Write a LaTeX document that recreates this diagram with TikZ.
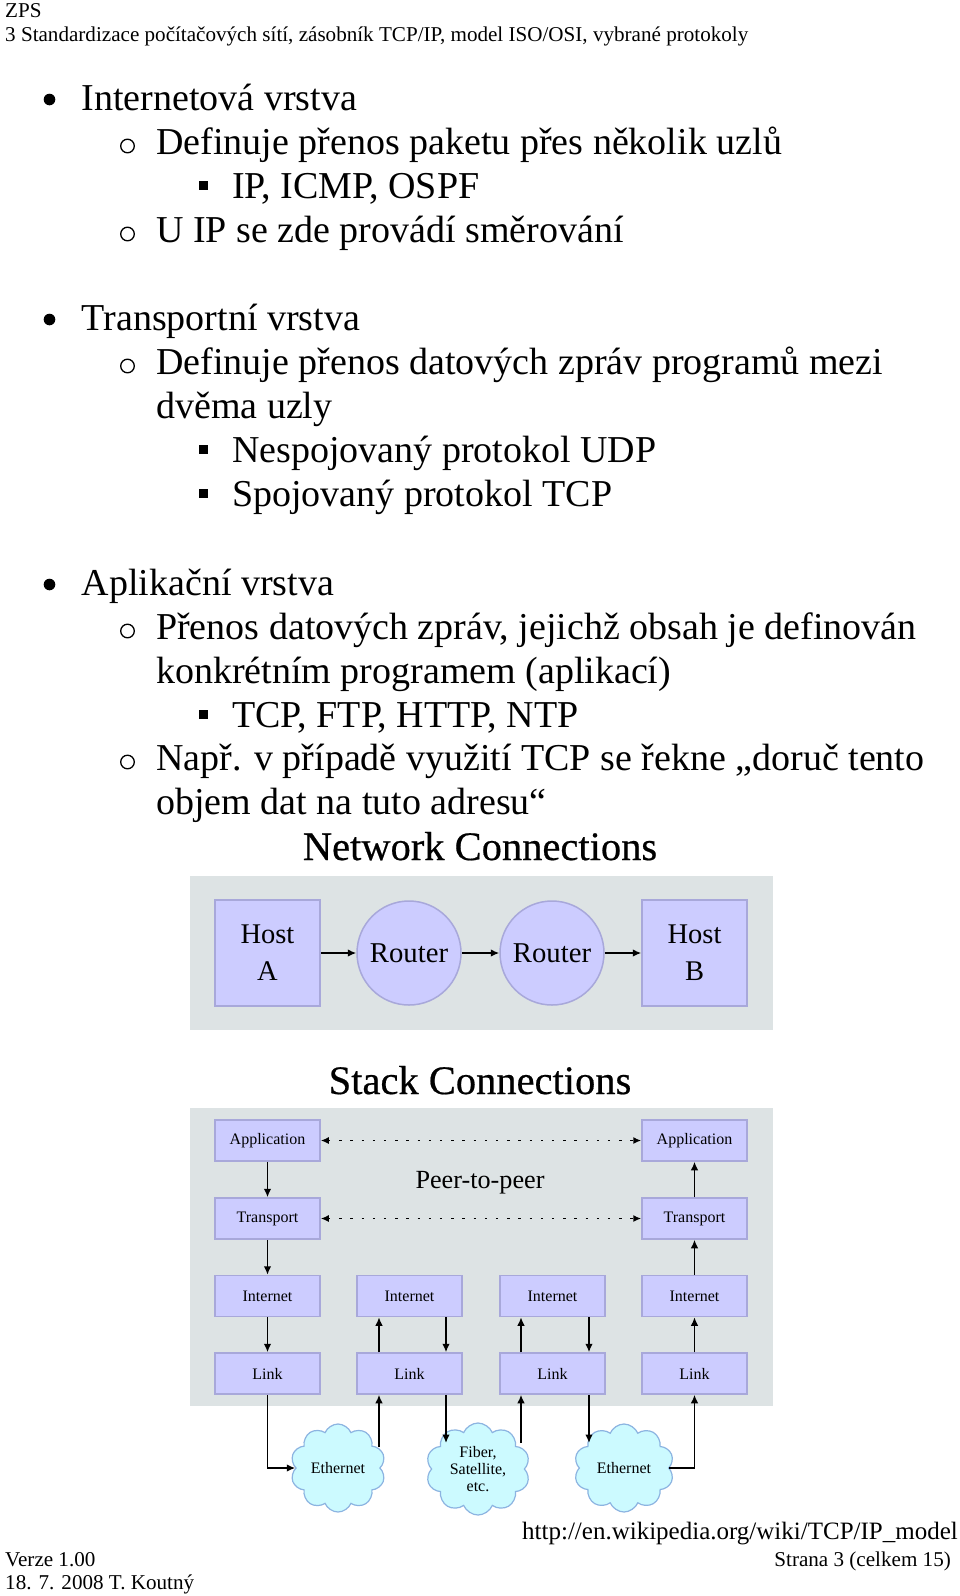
\documentclass[tikz,border=0pt]{standalone}
\usepackage{fontspec}
\setmainfont{Liberation Serif}
\usetikzlibrary{shapes.symbols,arrows.meta}
\definecolor{panel}{RGB}{221,227,228}
\definecolor{boxfill}{RGB}{204,204,255}
\definecolor{boxline}{RGB}{168,168,218}
\definecolor{cloudfill}{RGB}{204,250,255}
\definecolor{cloudline}{RGB}{140,180,225}
\tikzset{
  body/.style={anchor=base west, inner sep=0pt, font=\fontsize{38}{44}\selectfont},
  small/.style={anchor=base west, inner sep=0pt, font=\fontsize{21.1}{24}\selectfont},
  ttl/.style={anchor=base, inner sep=0pt, font=\fontsize{40.5}{44}\selectfont\addfontfeature{FakeBold=0.5}},
  hostbox/.style={rectangle, draw=boxline, fill=boxfill, line width=1.5pt, minimum width=105pt, minimum height=106pt, align=center, font=\fontsize{28.5}{37}\selectfont},
  routerc/.style={circle, draw=boxline, fill=boxfill, line width=1.5pt, minimum size=104pt, inner sep=0pt, font=\fontsize{28.7}{34}\selectfont},
  layer/.style={rectangle, draw=boxline, fill=boxfill, line width=1.5pt, minimum width=105pt, minimum height=41pt, font=\fontsize{16}{18}\selectfont},
  netcloud/.style={cloud, cloud puffs=10, cloud puff arc=135, aspect=1.05, draw=cloudline, fill=cloudfill, line width=1.2pt, align=center, inner sep=0pt, font=\fontsize{16}{17}\selectfont},
  arr/.style={-{Latex[length=8.5pt,width=7.5pt]}, line width=1.5pt},
  peer/.style={{Latex[length=8pt,width=7pt]}-{Latex[length=8pt,width=7pt]}, line width=1.8pt, dash pattern=on 2.5pt off 8.7pt},
  lvlone/.style={fill=black},
  lvltwo/.style={draw=black, line width=1.3pt},
  lvlthree/.style={fill=black}
}
\begin{document}
\begin{tikzpicture}[x=1pt,y=-1pt]
\useasboundingbox[fill=white] (0,0) rectangle (960,1596);
% header
\node[small] (h1) at (5,17.5) {ZPS};
\node[small] (h2) at (5,41) {3 Standardizace počítačových sítí, zásobník TCP/IP, model ISO/OSI, vybrané protokoly};
% section 1
\fill[lvlone] (49.5,99.5) circle (5.8);
\node[body] (a1) at (81.5,110) {Internetová vrstva};
\draw[lvltwo] (127.5,146) circle (6.8);
\node[body] (a2) at (156,154) {Definuje přenos paketu přes několik uzlů};
\fill[lvlthree] (198.5,181) rectangle (207.5,190);
\node[body] (a3) at (232,198) {IP, ICMP, OSPF};
\draw[lvltwo] (127.5,234) circle (6.8);
\node[body] (a4) at (156,242) {U IP se zde provádí směrování};
% section 2
\fill[lvlone] (49.5,319.5) circle (5.8);
\node[body] (b1) at (81.5,330) {Transportní vrstva};
\draw[lvltwo] (127.5,366) circle (6.8);
\node[body] (b2) at (156,374) {Definuje přenos datových zpráv programů mezi};
\node[body] (b3) at (156,418) {dvěma uzly};
\fill[lvlthree] (198.5,445) rectangle (207.5,454);
\node[body] (b4) at (232,462) {Nespojovaný protokol UDP};
\fill[lvlthree] (198.5,489) rectangle (207.5,498);
\node[body] (b5) at (232,506) {Spojovaný protokol TCP};
% section 3
\fill[lvlone] (49.5,584.5) circle (5.8);
\node[body] (c1t) at (81.5,595) {Aplikační vrstva};
\draw[lvltwo] (127.5,631) circle (6.8);
\node[body] (c2t) at (156,639) {Přenos datových zpráv, jejichž obsah je definován};
\node[body] (c3t) at (156,683) {konkrétním programem (aplikací)};
\fill[lvlthree] (198.5,710) rectangle (207.5,719);
\node[body] (c4t) at (232,727) {TCP, FTP, HTTP, NTP};
\draw[lvltwo] (127.5,762) circle (6.8);
\node[body] (c5t) at (156,770) {Např. v případě využití TCP se řekne „doruč tento};
\node[body] (c6t) at (156,814) {objem dat na tuto adresu“};
% network connections
\node[ttl] (nt) at (480,860) {Network Connections};
\fill[panel] (190,875.5) rectangle (773,1030);
\node[hostbox] (ha) at (267.5,953) {Host\\A};
\node[routerc] (r1) at (409,953) {Router};
\node[routerc] (r2) at (552,953) {Router};
\node[hostbox] (hb) at (694.5,953) {Host\\B};
\draw[arr] (ha) -- (r1);
\draw[arr] (r1) -- (r2);
\draw[arr] (r2) -- (hb);
% stack connections
\node[ttl] (st) at (480,1094) {Stack Connections};
\fill[panel] (190,1108) rectangle (773,1406);
\node[layer] (A1) at (267.5,1140.5) {Application};
\node[layer] (T1) at (267.5,1218.5) {Transport};
\node[layer] (I1) at (267.5,1296) {Internet};
\node[layer] (L1) at (267.5,1373.5) {Link};
\node[layer] (I2) at (409.5,1296) {Internet};
\node[layer] (L2) at (409.5,1373.5) {Link};
\node[layer] (I3) at (552.5,1296) {Internet};
\node[layer] (L3) at (552.5,1373.5) {Link};
\node[layer] (A4) at (694.5,1140.5) {Application};
\node[layer] (T4) at (694.5,1218.5) {Transport};
\node[layer] (I4) at (694.5,1296) {Internet};
\node[layer] (L4) at (694.5,1373.5) {Link};
\node[anchor=base, inner sep=0pt, font=\fontsize{26.2}{28}\selectfont] (pp) at (480,1188) {Peer-to-peer};
\draw[peer] (A1) -- (A4);
\draw[peer] (T1) -- (T4);
\draw[arr] (A1) -- (T1);
\draw[arr] (T1) -- (I1);
\draw[arr] (I1) -- (L1);
\draw[arr] (T4) -- (A4);
\draw[arr] (I4) -- (T4);
\draw[arr] (L4) -- (I4);
\coordinate (u2) at (379,1296);
\coordinate (d2) at (446,1296);
\coordinate (u3) at (521,1296);
\coordinate (d3) at (589,1296);
\draw[arr] (L2.north -| u2) -- (I2.south -| u2);
\draw[arr] (I2.south -| d2) -- (L2.north -| d2);
\draw[arr] (L3.north -| u3) -- (I3.south -| u3);
\draw[arr] (I3.south -| d3) -- (L3.north -| d3);
% clouds
\node[netcloud, minimum width=95pt, minimum height=88pt] (k1) at (338,1468) {Ethernet};
\node[netcloud, minimum width=104pt, minimum height=92pt] (k2) at (478,1469) {Fiber,\\Satellite,\\etc.};
\node[netcloud, minimum width=100pt, minimum height=88pt] (k3) at (624,1468) {Ethernet};
\coordinate (k1u) at (379,1447);
\coordinate (k2d) at (446,1443);
\coordinate (k2u) at (521,1443);
\coordinate (k3d) at (589,1443);
\draw[arr] (L1) |- (k1);
\draw[arr] (k1u) -- (L2.south -| k1u);
\draw[arr] (L2.south -| k2d) -- (k2d);
\draw[arr] (k2u) -- (L3.south -| k2u);
\draw[arr] (L3.south -| k3d) -- (k3d);
\draw[arr] (k3) -| (L4);
% footer
\node[anchor=base east, inner sep=0pt, font=\fontsize{25}{28}\selectfont] (url) at (958,1539) {http://en.wikipedia.org/wiki/TCP/IP\_model};
\node[small] (f1) at (5,1566) {Verze 1.00};
\node[small, anchor=base east] (f2) at (951,1566) {Strana 3 (celkem 15)};
\node[small] (f3) at (5,1589) {18. 7. 2008 T. Koutný};
\end{tikzpicture}
\end{document}
